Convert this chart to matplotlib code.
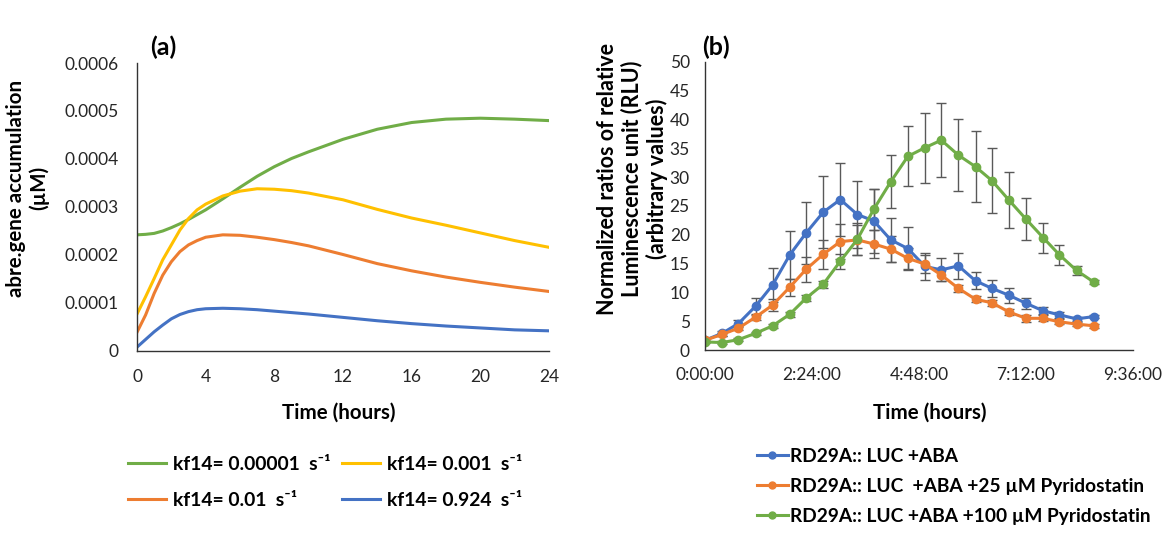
import matplotlib
matplotlib.use("Agg")
import matplotlib.pyplot as plt

plt.rcParams['font.family'] = ['Lato', 'DejaVu Sans']

# ---------------- panel (a): model curves (values x 1e-4 uM) ----------------
hours_a = [0, 0.5, 1, 1.5, 2, 2.5, 3, 3.5, 4, 5, 6, 7, 8, 9, 10, 12, 14, 16, 18, 20, 22, 24]
kf_00001 = [2.42, 2.43, 2.45, 2.50, 2.57, 2.65, 2.74, 2.84, 2.94, 3.17, 3.41, 3.64, 3.84, 4.01, 4.15,
            4.41, 4.62, 4.76, 4.83, 4.85, 4.83, 4.80]
kf_0001 = [0.77, 1.13, 1.51, 1.90, 2.21, 2.52, 2.76, 2.94, 3.06, 3.23, 3.33, 3.38, 3.37, 3.34, 3.29,
           3.15, 2.95, 2.77, 2.62, 2.46, 2.30, 2.16]
kf_001 = [0.39, 0.75, 1.20, 1.58, 1.86, 2.07, 2.21, 2.30, 2.37, 2.42, 2.41, 2.37, 2.32, 2.26, 2.19,
          2.01, 1.82, 1.67, 1.54, 1.43, 1.33, 1.24]
kf_0924 = [0.08, 0.24, 0.40, 0.54, 0.67, 0.76, 0.82, 0.86, 0.88, 0.89, 0.88, 0.86, 0.83, 0.80, 0.77,
           0.70, 0.63, 0.57, 0.52, 0.48, 0.44, 0.42]
labels_a = ['kf14= 0.00001  s\u207b\u00b9', 'kf14= 0.01  s\u207b\u00b9',
            'kf14= 0.001  s\u207b\u00b9', 'kf14= 0.924  s\u207b\u00b9']

# ---------------- panel (b): luminescence ----------------
minutes_b = [0, 23, 45, 68, 91, 114, 136, 159, 182, 205, 227, 250,
             273, 296, 318, 341, 364, 386, 409, 432, 455, 477, 500, 523]
aba = [1.7, 2.9, 4.6, 7.6, 11.3, 16.5, 20.3, 23.9, 26.1, 23.5, 22.4, 19.1,
       17.6, 14.5, 13.9, 14.6, 12.0, 10.7, 9.5, 8.1, 6.8, 6.1, 5.4, 5.8]
aba_err = [0.3, 0.4, 0.6, 1.5, 2.9, 4.2, 5.4, 6.2, 6.3, 5.8, 5.5, 3.8,
           3.8, 2.4, 2.0, 2.2, 1.5, 1.5, 1.3, 1.0, 0.6, 0.5, 0.4, 0.3]
pds25 = [1.7, 2.7, 3.8, 5.7, 7.8, 10.9, 14.0, 16.6, 18.8, 19.1, 18.4, 17.5,
         15.9, 14.9, 13.0, 10.7, 8.8, 8.2, 6.6, 5.5, 5.5, 4.9, 4.5, 4.2]
pds25_err = [0.2, 0.3, 0.4, 0.5, 1.0, 1.5, 2.2, 2.5, 3.0, 2.6, 2.5, 2.2,
             1.8, 1.6, 1.0, 0.6, 0.5, 0.5, 0.5, 0.6, 0.5, 0.4, 0.3, 0.3]
pds100 = [1.4, 1.3, 1.8, 2.9, 4.2, 6.2, 9.0, 11.4, 15.4, 19.2, 24.4, 29.2,
          33.6, 35.1, 36.4, 33.8, 31.8, 29.4, 26.0, 22.7, 19.5, 16.5, 13.8, 11.8]
pds100_err = [0.2, 0.2, 0.2, 0.3, 0.3, 0.4, 0.5, 0.6, 1.3, 2.8, 3.5, 4.6,
              5.2, 6.1, 6.4, 6.3, 6.2, 5.6, 4.8, 3.6, 2.6, 1.8, 0.8, 0.4]
labels_b = ['RD29A:: LUC +ABA', 'RD29A:: LUC  +ABA +25 \u00b5M Pyridostatin',
            'RD29A:: LUC +ABA +100 \u00b5M Pyridostatin']

blue, orange, green, yellow = '#4472C4', '#ED7D31', '#70AD47', '#FFC000'
tick_col = '#262626'

fig = plt.figure(figsize=(11.7, 5.33), dpi=100)

def style_axes(ax):
    for s in ['top', 'right']:
        ax.spines[s].set_visible(False)
    for s in ['left', 'bottom']:
        ax.spines[s].set_color('#333333')
        ax.spines[s].set_linewidth(1.0)
    ax.tick_params(length=0, labelsize=12.5, colors=tick_col)

# (a)
ax1 = fig.add_axes([0.1171, 0.3415, 0.3521, 0.5403])
scale = 1e-4
l1, = ax1.plot(hours_a, [v * scale for v in kf_00001], color=green, lw=2.2)
l2, = ax1.plot(hours_a, [v * scale for v in kf_0001], color=yellow, lw=2.2)
l3, = ax1.plot(hours_a, [v * scale for v in kf_001], color=orange, lw=2.2)
l4, = ax1.plot(hours_a, [v * scale for v in kf_0924], color=blue, lw=2.2)
ax1.set_xlim(0, 24)
ax1.set_ylim(0, 0.0006)
ax1.set_xticks([0, 4, 8, 12, 16, 20, 24])
ax1.set_yticks([0, 0.0001, 0.0002, 0.0003, 0.0004, 0.0005, 0.0006])
ax1.set_yticklabels(['0', '0.0001', '0.0002', '0.0003', '0.0004', '0.0005', '0.0006'])
style_axes(ax1)
ax1.tick_params(axis='x', pad=13)
ax1.tick_params(axis='y', pad=13)

fig.text(0.1393, 0.912, '(a)', fontsize=18, fontweight='bold', ha='center', va='center')
fig.text(0.0235, 0.647, 'abre.gene accumulation\n(\u00b5M)', rotation=90, fontsize=14.8,
         fontweight='bold', ha='center', va='center', multialignment='center', linespacing=1.2)
fig.text(0.2893, 0.225, 'Time (hours)', fontsize=14.8, fontweight='bold', ha='center', va='center')

fig.legend([l1, l3, l2, l4], labels_a, ncol=2, loc='upper left', bbox_to_anchor=(0.1094, 0.1454),
           frameon=False, prop={'weight': 'bold', 'size': 13.9}, handlelength=1.95,
           columnspacing=0.6, labelspacing=1.0, handletextpad=0.37, borderpad=0, borderaxespad=0)

# (b)
ax2 = fig.add_axes([0.6026, 0.3433, 0.3658, 0.5408])
hrs_b = [m / 60 for m in minutes_b]
err_kw = dict(ecolor='#595959', elinewidth=1, capsize=3.5, capthick=1)
ax2.errorbar(hrs_b, aba, yerr=aba_err, color=blue, lw=2.2, marker='o', ms=6, **err_kw)
ax2.errorbar(hrs_b, pds25, yerr=pds25_err, color=orange, lw=2.2, marker='o', ms=6, **err_kw)
ax2.errorbar(hrs_b, pds100, yerr=pds100_err, color=green, lw=2.2, marker='o', ms=6, **err_kw)
ax2.set_xlim(0, 9.6)
ax2.set_ylim(0, 50)
ax2.set_xticks([0, 2.4, 4.8, 7.2, 9.6])
ax2.set_xticklabels(['0:00:00', '2:24:00', '4:48:00', '7:12:00', '9:36:00'])
ax2.set_yticks(range(0, 51, 5))
style_axes(ax2)
ax2.tick_params(axis='x', pad=12)
ax2.tick_params(axis='y', pad=11)

fig.text(0.612, 0.912, '(b)', fontsize=18, fontweight='bold', ha='center', va='center')
fig.text(0.5406, 0.664, 'Normalized ratios of relative\nLuminescence unit (RLU)\n(arbitrary values)',
         rotation=90, fontsize=15.5, fontweight='bold', ha='center', va='center',
         multialignment='center', linespacing=1.2)
fig.text(0.795, 0.225, 'Time (hours)', fontsize=14.8, fontweight='bold', ha='center', va='center')

handles_b = [plt.Line2D([], [], color=c, lw=2.2, marker='o', ms=5) for c in (blue, orange, green)]
fig.legend(handles_b, labels_b, loc='upper left', bbox_to_anchor=(0.647, 0.1604),
           frameon=False, prop={'weight': 'bold', 'size': 13.8}, handlelength=1.6,
           labelspacing=0.68, handletextpad=0.1, borderpad=0, borderaxespad=0)

fig.savefig('out.png', dpi=100)
